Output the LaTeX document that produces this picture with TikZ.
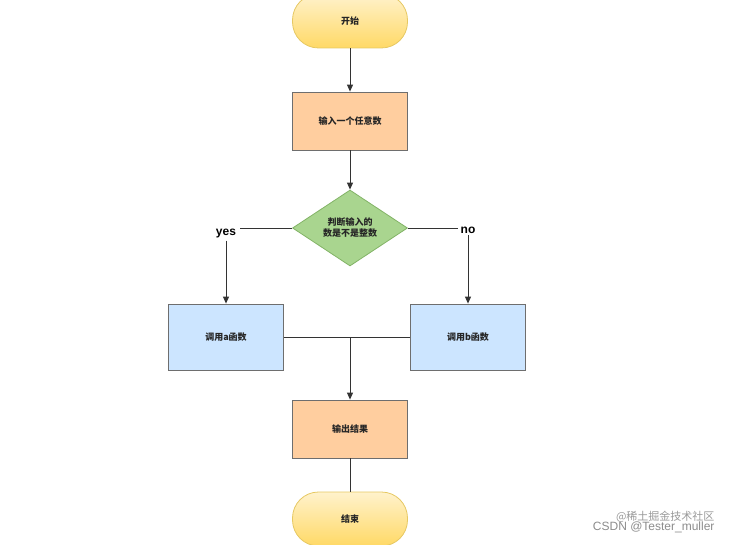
\documentclass[tikz,border=0pt]{standalone}
\usepackage{fontspec}
\setmainfont{Liberation Sans}
\newfontfamily\cjk{Noto Sans CJK SC}
\usetikzlibrary{shapes.geometric,arrows.meta}
\definecolor{orangef}{HTML}{FFCE9F}
\definecolor{oranged}{HTML}{6E6E6E}
\definecolor{bluef}{HTML}{CCE5FF}
\definecolor{greenf}{HTML}{A9D58F}
\definecolor{greend}{HTML}{82B366}
\definecolor{yellowt}{HTML}{FFF2CC}
\definecolor{yellowb}{HTML}{FFD966}
\definecolor{yellowd}{HTML}{E6C862}
\begin{document}
\begin{tikzpicture}[x=1pt,y=-1pt,
  lbl/.style={font=\cjk\fontsize{9}{11}\selectfont\bfseries, text=black!85},
  procbox/.style={draw=oranged, line width=0.8pt, minimum width=115pt, minimum height=58pt, lbl},
  term/.style={draw=yellowd, line width=0.8pt, rounded corners=26pt, minimum width=115pt, minimum height=54pt, top color=yellowt, bottom color=yellowb, lbl},
  conn/.style={draw=black!80, line width=0.9pt},
  arr/.style={conn, -{Triangle[length=7pt,width=6pt]}}]
\useasboundingbox (0,0) rectangle (733,545);
\clip (0,0) rectangle (733,545);
\node[term] (start) at (350,21) {开始};
\node[procbox, fill=orangef] (in) at (350,121) {输入一个任意数};
\node[diamond, aspect=1.5, draw=greend, fill=greenf, line width=0.8pt, minimum width=115pt, minimum height=76pt, inner sep=0pt, lbl, align=center] (dec) at (350,228) {判断输入的\\数是不是整数};
\node[procbox, fill=bluef, minimum height=66pt] (a) at (226,337) {调用a函数};
\node[procbox, fill=bluef, minimum height=66pt] (b) at (468,337) {调用b函数};
\node[procbox, fill=orangef] (out) at (350,429) {输出结果};
\node[term] (end) at (350,519) {结束};
\node[font=\fontsize{12}{14}\selectfont\bfseries, inner sep=2pt] (yes) at (226,234) {yes};
\node[font=\fontsize{12}{14}\selectfont\bfseries, inner sep=2pt] (no) at (468,230) {no};
\coordinate (m) at (350,337);
\node[font=\fontsize{12}{14}\selectfont, text=black!45, anchor=east] (wm) at (718,527) {CSDN @Tester\_muller};
\node[font=\cjk\fontsize{11}{13}\selectfont, text=black!40, anchor=east] (wm2) at (718,517) {@稀土掘金技术社区};
\draw[arr] (start) -- (in);
\draw[arr] (in) -- (dec);
\draw[conn] (dec.west) -- (240,228);
\draw[arr] (yes.south) -- (yes.south |- a.north);
\draw[conn] (dec.east) -- (no.west |- dec.east);
\draw[arr] (no.south) -- (no.south |- b.north);
\draw[conn] (a.east) -- (b.west);
\draw[arr] (m) -- (out.north);
\draw[conn] (out) -- (end);
\end{tikzpicture}
\end{document}
